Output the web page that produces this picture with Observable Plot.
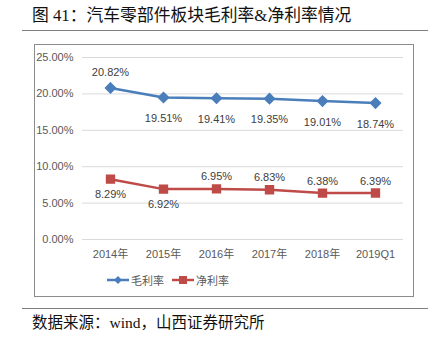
<!DOCTYPE html>
<html><head><meta charset="utf-8">
<script src="https://cdn.jsdelivr.net/npm/d3@7"></script>
<script src="https://cdn.jsdelivr.net/npm/@observablehq/plot@0.6"></script>
<style>
body{margin:0;background:#fff;width:441px;height:342px;position:relative;overflow:hidden;font-family:"Liberation Sans","Noto Sans CJK SC",sans-serif;}
#title{position:absolute;left:32px;top:6px;font-size:16.8px;line-height:20px;color:#111;font-family:"Liberation Serif","Noto Sans CJK SC",serif;white-space:nowrap}
.rule{position:absolute;left:22px;width:406px;height:0;border-top:1.5px solid #7f7f7f}
#box{position:absolute;left:34px;top:44px;width:380px;height:253px;border:1px solid #8c8c8c;box-sizing:border-box}
#chart{position:absolute;left:0;top:0}
#legend{position:absolute;left:72px;top:227px;font-size:11px;color:#595959;display:flex;align-items:center;white-space:nowrap}
#legend span{margin-right:8px}
#legend svg{vertical-align:middle;margin-right:2px}
#caption{position:absolute;left:32px;top:313px;font-size:15.5px;line-height:20px;color:#111;font-family:"Liberation Serif","Noto Sans CJK SC",serif;white-space:nowrap}
</style></head>
<body>
<div id="title">图 41：汽车零部件板块毛利率&amp;净利率情况</div>
<div class="rule" style="top:30px"></div>
<div id="box"><div id="chart"></div>
<div id="legend">
<svg width="22" height="10"><line x1="0" y1="5" x2="22" y2="5" stroke="#4a7ebb" stroke-width="2.5"/><path d="M11 1 L15 5 L11 9 L7 5 Z" fill="#4a7ebb"/></svg><span>毛利率</span>
<svg width="22" height="10"><line x1="0" y1="5" x2="22" y2="5" stroke="#be4b48" stroke-width="2.5"/><rect x="7" y="1" width="8" height="8" fill="#be4b48"/></svg><span>净利率</span>
</div>
</div>
<div class="rule" style="top:308px"></div>
<div id="caption">数据来源：wind，山西证券研究所</div>
<script>
const categories = ["2014年","2015年","2016年","2017年","2018年","2019Q1"];
const grossMargin = [20.82,19.51,19.41,19.35,19.01,18.74];
const netMargin = [8.29,6.92,6.95,6.83,6.38,6.39];
const grossLabelSide = ["above","below","below","below","below","below"];
const netLabelSide = ["below","below","above","above","above","above"];
const yTicks = [0,5,10,15,20,25];

const gross = categories.map((c,i)=>({x:c,y:grossMargin[i],side:grossLabelSide[i]}));
const net = categories.map((c,i)=>({x:c,y:netMargin[i],side:netLabelSide[i]}));
const fmt = v => v.toFixed(2)+"%";
const blue = "#4a7ebb", red = "#be4b48";

const plot = Plot.plot({
  width: 378, height: 251,
  marginLeft: 47, marginRight: 10, marginTop: 12, marginBottom: 57,
  style:{fontFamily:'"Liberation Sans","Noto Sans CJK SC",sans-serif', fontSize:"11px", color:"#595959", background:"transparent"},
  x:{type:"point", domain:categories, padding:0.5, label:null},
  y:{domain:[0,25], label:null},
  marks:[
    Plot.gridY(yTicks,{stroke:"#d9d9d9", strokeOpacity:1, strokeWidth:1}),
    Plot.axisY({ticks:yTicks, tickFormat:fmt, tickSize:0, tickPadding:9, label:null, fill:"#595959"}),
    Plot.axisX({tickSize:0, tickPadding:11, label:null, fill:"#595959"}),
    Plot.lineY(gross,{x:"x",y:"y",stroke:blue,strokeWidth:2.5}),
    Plot.dot(gross,{x:"x",y:"y",symbol:"diamond2",r:4.5,fill:blue,stroke:blue}),
    Plot.lineY(net,{x:"x",y:"y",stroke:red,strokeWidth:2.5}),
    Plot.dot(net,{x:"x",y:"y",symbol:"square2",r:5,fill:red,stroke:red}),
    Plot.text(gross.filter(d=>d.side==="above"),{x:"x",y:"y",text:d=>fmt(d.y),dy:-15,fill:"#404040"}),
    Plot.text(gross.filter(d=>d.side==="below"),{x:"x",y:"y",text:d=>fmt(d.y),dy:21,fill:"#404040"}),
    Plot.text(net.filter(d=>d.side==="above"),{x:"x",y:"y",text:d=>fmt(d.y),dy:-12,fill:"#404040"}),
    Plot.text(net.filter(d=>d.side==="below"),{x:"x",y:"y",text:d=>fmt(d.y),dy:15,fill:"#404040"})
  ]
});
document.getElementById("chart").appendChild(plot);
</script>
</body></html>
